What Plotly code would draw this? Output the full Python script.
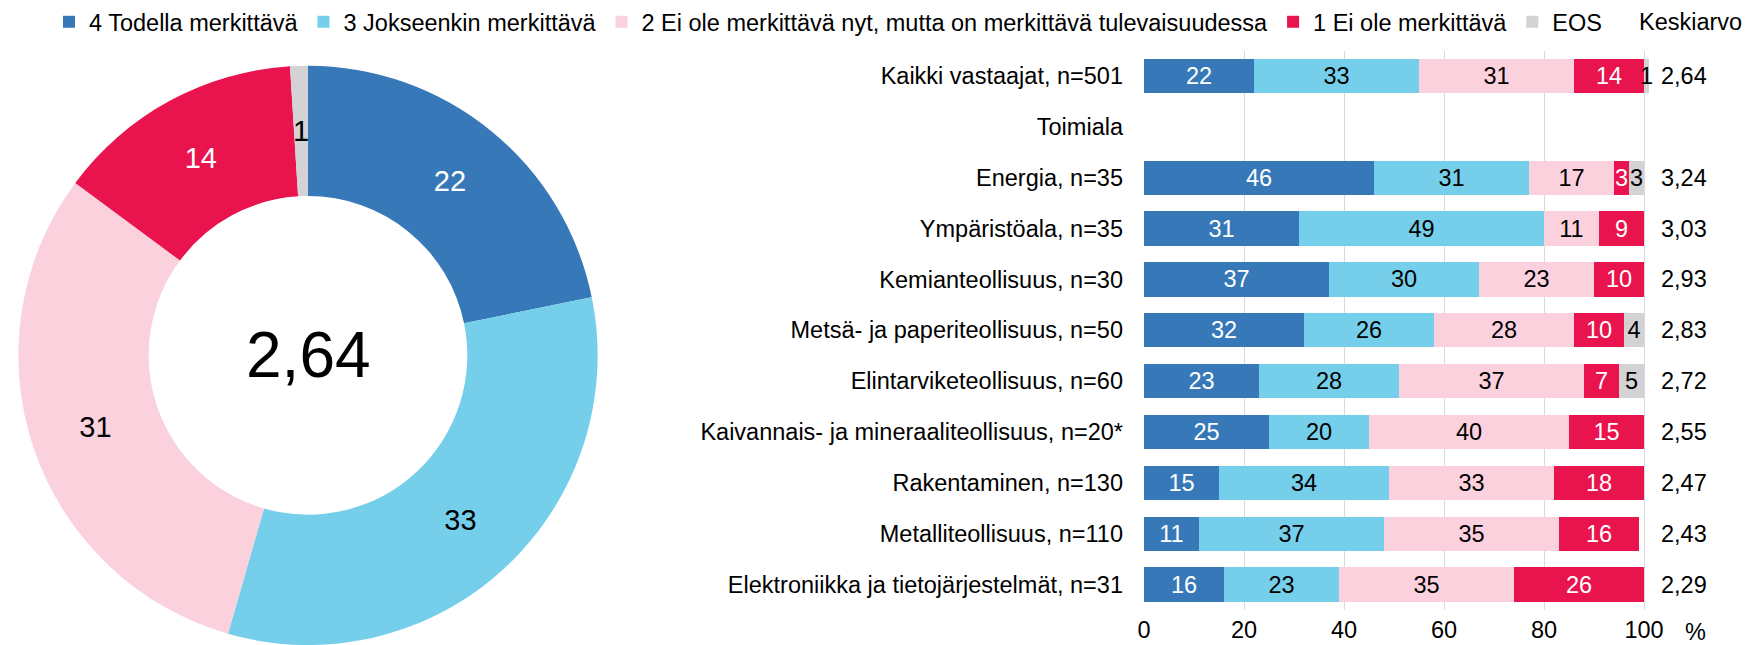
import math
import plotly.graph_objects as go

W, H = 1747, 645
FONT = "Liberation Sans, Arial, sans-serif"
FS = 23.5
PIE_FS = 29

series_names = ["4 Todella merkittävä", "3 Jokseenkin merkittävä",
                "2 Ei ole merkittävä nyt, mutta on merkittävä tulevaisuudessa",
                "1 Ei ole merkittävä", "EOS"]
colors = ["#3779B8", "#76CFEA", "#FAD1DC", "#E9134D", "#D3D2D4"]
text_colors = ["white", "black", "black", "white", "black"]

categories = ["Kaikki vastaajat, n=501", "Toimiala", "Energia, n=35", "Ympäristöala, n=35",
              "Kemianteollisuus, n=30", "Metsä- ja paperiteollisuus, n=50",
              "Elintarviketeollisuus, n=60", "Kaivannais- ja mineraaliteollisuus, n=20*",
              "Rakentaminen, n=130", "Metalliteollisuus, n=110",
              "Elektroniikka ja tietojärjestelmät, n=31"]

s4 = [22, None, 46, 31, 37, 32, 23, 25, 15, 11, 16]
s3 = [33, None, 31, 49, 30, 26, 28, 20, 34, 37, 23]
s2 = [31, None, 17, 11, 23, 28, 37, 40, 33, 35, 35]
s1 = [14, None, 3, 9, 10, 10, 7, 15, 18, 16, 26]
eos = [1, None, 3, None, None, 4, 5, None, None, None, None]
means = [2.64, None, 3.24, 3.03, 2.93, 2.83, 2.72, 2.55, 2.47, 2.43, 2.29]

overall_mean = "2,64"
x_ticks = [0, 20, 40, 60, 80, 100]

all_series = [s4, s3, s2, s1, eos]


def px_x(p):
    return p / W


def px_y(p):
    return (H - p) / H


fig = go.Figure()

for name, vals, col, tcol in zip(series_names, all_series, colors, text_colors):
    fig.add_trace(go.Bar(
        y=categories, x=vals, name=name, orientation="h",
        marker=dict(color=col, line=dict(width=0)),
        text=[("" if v is None else str(v)) for v in vals],
        textposition="inside", insidetextanchor="middle", textangle=0,
        textfont=dict(family=FONT, size=FS, color=tcol),
        cliponaxis=False, hoverinfo="skip",
    ))

# donut (overall respondents)
pie_vals = [s[0] for s in all_series]
PIE_CX, PIE_CY, PIE_R, HOLE = 308, 354, 291, 0.55
# the tiniest slice gets its label as an annotation (plotly would push it to the rim)
small = [v < 3 for v in pie_vals]
fig.add_trace(go.Pie(
    labels=series_names, values=pie_vals, hole=HOLE, sort=False,
    direction="clockwise", rotation=0, showlegend=False,
    marker=dict(colors=colors, line=dict(width=0)),
    text=[("" if sm else str(v)) for v, sm in zip(pie_vals, small)], textinfo="text",
    textposition="inside", insidetextorientation="horizontal",
    insidetextfont=dict(family=FONT, size=PIE_FS, color=text_colors),
    domain=dict(x=[px_x(PIE_CX - PIE_R), px_x(PIE_CX + PIE_R)],
                y=[px_y(PIE_CY + PIE_R), px_y(PIE_CY - PIE_R)]),
    hoverinfo="skip",
))

annotations = []
total = sum(pie_vals)
cum = 0
r_mid = PIE_R * (1 + HOLE) / 2
for v, sm, tc in zip(pie_vals, small, text_colors):
    if sm:
        ang = 2 * math.pi * (cum + v / 2) / total
        ax = PIE_CX + r_mid * math.sin(ang)
        ay = PIE_CY - r_mid * math.cos(ang)
        annotations.append(dict(x=px_x(ax), y=px_y(ay), xref="paper", yref="paper",
                                text=str(v), showarrow=False, xanchor="center",
                                yanchor="middle",
                                font=dict(family=FONT, size=PIE_FS, color=tc)))
    cum += v

for cat, m in zip(categories, means):
    if m is None:
        continue
    annotations.append(dict(
        x=px_x(1684), xref="paper", y=cat, yref="y", xanchor="center", yanchor="middle",
        text=f"{m:.2f}".replace(".", ","), showarrow=False,
        font=dict(family=FONT, size=FS, color="black")))

annotations += [
    dict(x=px_x(1690), y=px_y(19), xref="paper", yref="paper", text="Keskiarvo",
         showarrow=False, xanchor="center", yanchor="middle",
         font=dict(family=FONT, size=FS, color="black")),
    dict(x=px_x(1695), y=px_y(632), xref="paper", yref="paper", text="%",
         showarrow=False, xanchor="center", yanchor="middle",
         font=dict(family=FONT, size=FS, color="black")),
    dict(x=px_x(PIE_CX), y=px_y(PIE_CY), xref="paper", yref="paper", text=overall_mean,
         showarrow=False, xanchor="center", yanchor="middle",
         font=dict(family=FONT, size=64, color="black")),
]

fig.update_layout(
    width=W, height=H,
    margin=dict(l=0, r=0, t=0, b=0),
    paper_bgcolor="white", plot_bgcolor="white",
    barmode="stack", bargap=0.325,
    font=dict(family=FONT, size=FS, color="black"),
    uniformtext=dict(minsize=FS, mode="show"),
    showlegend=True,
    legend=dict(orientation="h", x=px_x(49), y=px_y(19), xanchor="left", yanchor="middle",
                font=dict(family=FONT, size=FS, color="black"),
                bgcolor="rgba(0,0,0,0)", traceorder="normal", itemclick=False),
    xaxis=dict(domain=[px_x(1144), px_x(1649)], range=[0, 101], tickvals=x_ticks,
               showgrid=True, gridcolor="#D9D9D9", gridwidth=1, zeroline=False,
               showline=False, ticks="", ticklabelstandoff=4,
               tickfont=dict(family=FONT, size=FS, color="black"), automargin=False,
               fixedrange=True),
    yaxis=dict(domain=[px_y(609.8), px_y(47.75)], autorange="reversed",
               categoryorder="array", categoryarray=categories,
               showgrid=False, zeroline=False, showline=False,
               ticks="", ticklabelstandoff=20,
               tickfont=dict(family=FONT, size=FS, color="black"), automargin=False,
               fixedrange=True),
    annotations=annotations,
)

fig.write_html("out.html", config={"displayModeBar": False},
               post_script="document.body.style.margin='0';document.body.style.overflow='hidden';")
